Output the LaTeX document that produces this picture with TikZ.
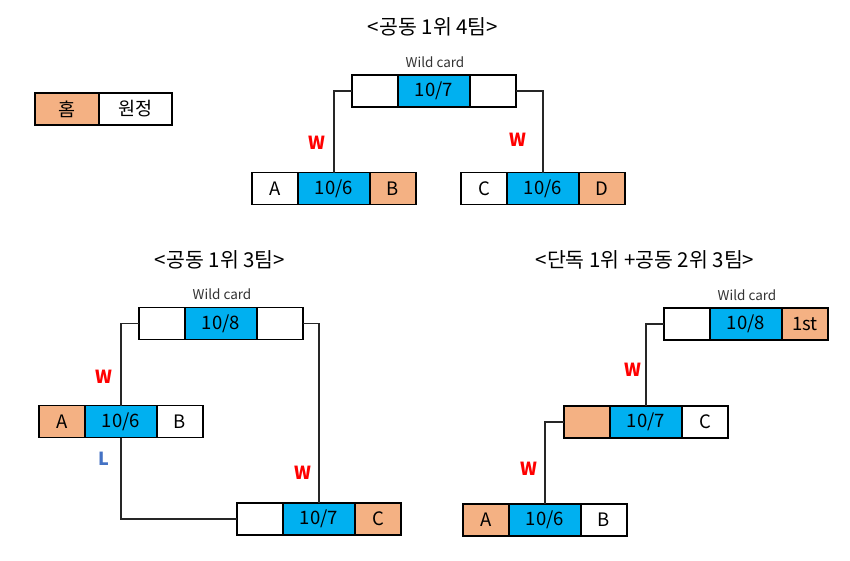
\documentclass[tikz,border=0pt]{standalone}
\usepackage{fontspec}
\setmainfont{Noto Sans CJK KR}
\usetikzlibrary{positioning}
\definecolor{cellblue}{HTML}{00B0F0}
\definecolor{cellorange}{HTML}{F4B183}
\definecolor{lossblue}{HTML}{4472C4}
\definecolor{winred}{HTML}{FF0000}

\begin{document}
\begin{tikzpicture}[
  x=1pt, y=-1pt,
  cell/.style={draw=black, line width=1.8pt, outer sep=0pt, inner sep=0pt,
               minimum height=32pt, minimum width=46pt, fill=white,
               font=\fontsize{18.5}{18.5}\selectfont},
  homecell/.style={cell, fill=cellorange},
  datecell/.style={cell, fill=cellblue, minimum width=72pt},
  link/.style={line width=1.8pt, draw=black!85},
  title/.style={font=\fontsize{20.5}{24}\selectfont},
  wclbl/.style={font=\fontsize{13.5}{15}\selectfont, text=black!80},
  win/.style={font=\bfseries\fontsize{18}{18}\selectfont, text=winred},
  loss/.style={win, text=lossblue},
]
\useasboundingbox (0,0) rectangle (850,560);

% ---- Legend ----
\node[homecell, minimum width=64pt] (lghome) at (67,109) {홈};
\node[cell, minimum width=73pt, right=0pt of lghome] (lgaway) {원정};

% ---- <공동 1위 4팀> ----
\node[title] (t4) at (433,27) {<공동\ 1위\ 4팀>};
\node[wclbl] (wc4) at (435,62) {Wild card};
\node[cell]                        (wc4l) at (375,91) {};
\node[datecell, right=0pt of wc4l] (wc4m) {10/7};
\node[cell, right=0pt of wc4m]     (wc4r) {};
\node[cell]                        (r4ll) at (275,188.5) {A};
\node[datecell, right=0pt of r4ll] (r4lm) {10/6};
\node[homecell, right=0pt of r4lm] (r4lr) {B};
\node[cell]                        (r4rl) at (484,188.5) {C};
\node[datecell, right=0pt of r4rl] (r4rm) {10/6};
\node[homecell, right=0pt of r4rm] (r4rr) {D};
\draw[link] (wc4l.west) -| (r4lm.north);
\draw[link] (wc4r.east) -| (r4rm.north);
\node[win] at (317,143) {W};
\node[win] at (518,140) {W};

% ---- <공동 1위 3팀> ----
\node[title] (t3) at (220,260) {<공동\ 1위\ 3팀>};
\node[wclbl] (wc3) at (222,294) {Wild card};
\node[cell]                        (wc3l) at (162,323.5) {};
\node[datecell, right=0pt of wc3l] (wc3m) {10/8};
\node[cell, right=0pt of wc3m]     (wc3r) {};
\node[homecell]                    (g3al) at (62,421.5) {A};
\node[datecell, right=0pt of g3al] (g3am) {10/6};
\node[cell, right=0pt of g3am]     (g3ar) {B};
\node[cell]                        (g3bl) at (260,519) {};
\node[datecell, right=0pt of g3bl] (g3bm) {10/7};
\node[homecell, right=0pt of g3bm] (g3br) {C};
\draw[link] (wc3l.west) -| (g3am.north);
\draw[link] (g3am.south) |- (g3bl.west);
\draw[link] (wc3r.east) -| (g3bm.north);
\node[win]  at (104,377) {W};
\node[loss] at (104,459) {L};
\node[win]  at (303,473) {W};

% ---- <단독 1위 +공동 2위 3팀> ----
\node[title] (t2) at (645,260) {<단독\ 1위\ +공동\ 2위\ 3팀>};
\node[wclbl] (wc2) at (747,295) {Wild card};
\node[cell]                        (wc2l) at (687,324) {};
\node[datecell, right=0pt of wc2l] (wc2m) {10/8};
\node[homecell, right=0pt of wc2m] (wc2r) {1st};
\node[homecell]                    (s2bl) at (587,422) {};
\node[datecell, right=0pt of s2bl] (s2bm) {10/7};
\node[cell, right=0pt of s2bm]     (s2br) {C};
\node[homecell]                    (s2al) at (486,520) {A};
\node[datecell, right=0pt of s2al] (s2am) {10/6};
\node[cell, right=0pt of s2am]     (s2ar) {B};
\draw[link] (wc2l.west) -| (s2bm.north);
\draw[link] (s2bl.west) -| (s2am.north);
\node[win] at (633,370) {W};
\node[win] at (529,469) {W};
\end{tikzpicture}
\end{document}
